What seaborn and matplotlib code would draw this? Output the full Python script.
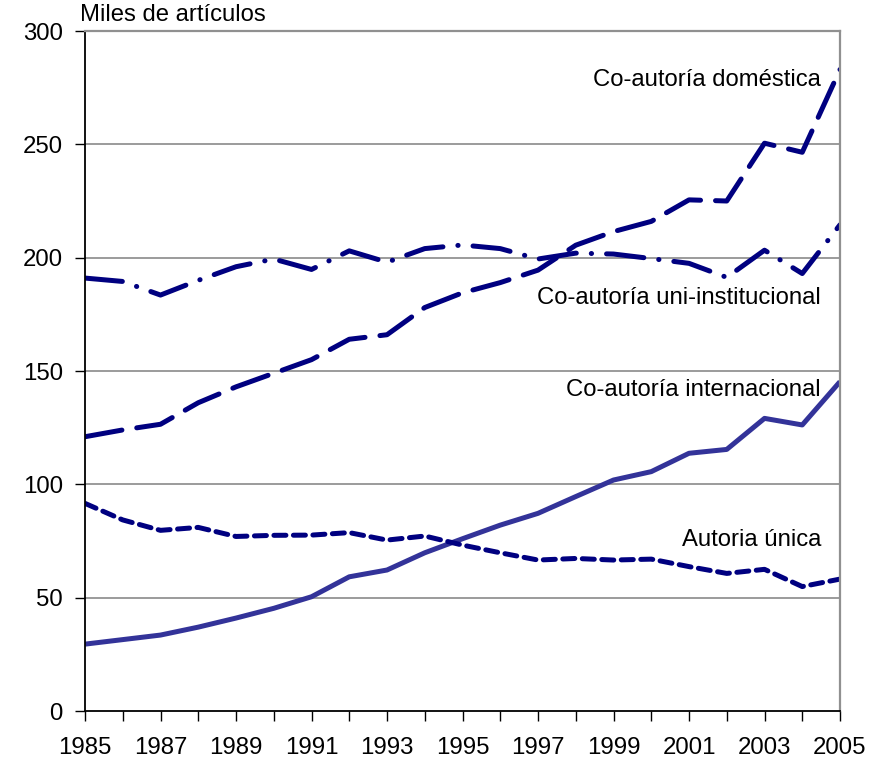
import matplotlib
matplotlib.use("Agg")
import matplotlib.pyplot as plt
import numpy as np
import pandas as pd
import seaborn as sns

years = list(range(1985, 2006))

domestica = [121, 124, 126.5, 136, 143, 149, 155, 164, 166, 178, 184.5,
             189, 194.5, 205.5, 211.5, 216, 225.5, 225, 250.5, 246.5, 283]
uni_inst = [191, 189.5, 183.5, 190, 196, 199.4, 194.8, 203, 198, 204, 205.6,
            204, 199.4, 202, 201.6, 199.6, 197.5, 191.3, 203.3, 193, 214.5]
internacional = [29.5, 31.5, 33.5, 37, 41, 45.3, 50.4, 59.2, 62.2, 69.8, 76,
                 82, 87.2, 94.6, 101.9, 105.6, 113.7, 115.4, 129.1, 126.2, 145.3]
unica = [91.6, 84.3, 79.7, 81, 77, 77.5, 77.6, 78.7, 75.4, 77.2, 73.2,
         69.8, 66.6, 67.3, 66.6, 67, 63.7, 60.7, 62.5, 54.9, 58.2]

labels = ["Co-autoría doméstica", "Co-autoría uni-institucional",
          "Co-autoría internacional", "Autoria única"]

sns.set_style("white")
plt.rcParams['font.family'] = ['Liberation Sans', 'DejaVu Sans']
plt.rcParams['text.color'] = 'black'

fig = plt.figure(figsize=(8.84, 7.61), dpi=100)
ax = fig.add_axes([85/884, 50/761, 755/884, 680/761])

navy = "#000080"
series = [
    (domestica, navy, (7.5, 3.0)),
    (uni_inst, navy, (7.5, 3.0, 0.05, 3.0)),
    (internacional, "#333399", None),
    (unica, navy, (2.4, 1.5)),
]
for vals, col, dash in series:
    df = pd.DataFrame({"year": years, "val": vals})
    sns.lineplot(data=df, x="year", y="val", ax=ax, color=col, lw=3.6)
    line = ax.lines[-1]
    if dash is not None:
        line.set_dashes(dash)
        line.set_dash_capstyle("round")
    line.set_solid_capstyle("butt")

ax.set_xlim(1985, 2005)
ax.set_ylim(0, 300)
ax.set_xticks(years)
ax.set_xticklabels([str(y) if (y - 1985) % 2 == 0 else "" for y in years])
ax.set_yticks(range(0, 301, 50))
ax.tick_params(axis="both", direction="out", length=7, width=1, color="black",
               labelcolor="black", labelsize=17.3, bottom=True, left=True)
ax.tick_params(axis="x", pad=12)
ax.tick_params(axis="y", pad=9)
ax.set_xlabel("")
ax.set_ylabel("")

for yv in range(50, 300, 50):
    ax.axhline(yv, color="#808080", lw=1.1, zorder=0)

for s in ["left", "bottom"]:
    ax.spines[s].set_color("black")
    ax.spines[s].set_linewidth(1.3)
for s in ["top", "right"]:
    ax.spines[s].set_color("#909090")
    ax.spines[s].set_linewidth(1.6)

ax.text(-0.007, 1.008, "Miles de artículos", transform=ax.transAxes,
        fontsize=17.2, ha="left", va="bottom")

ax.text(2004.5, 278.5, labels[0], fontsize=17.2, ha="right", va="center")
ax.text(2004.5, 182, labels[1], fontsize=17.2, ha="right", va="center")
ax.text(2004.5, 141.5, labels[2], fontsize=17.2, ha="right", va="center")
ax.text(2004.5, 75.5, labels[3], fontsize=17.2, ha="right", va="center")

fig.savefig("out.png", dpi=100)
